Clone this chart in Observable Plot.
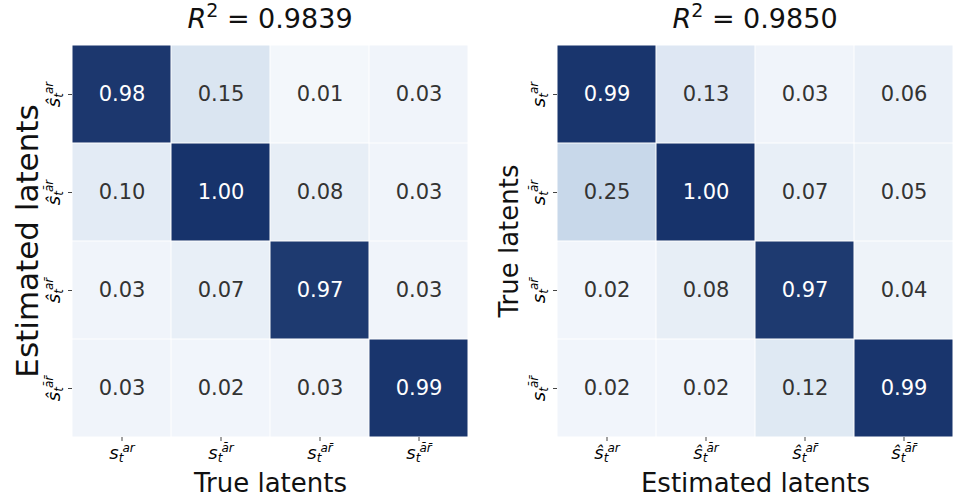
<!DOCTYPE html>
<html>
<head>
<meta charset="utf-8">
<script src="https://cdn.jsdelivr.net/npm/d3@7"></script>
<script src="https://cdn.jsdelivr.net/npm/@observablehq/plot@0.6"></script>
<style>
  body { margin: 0; background: #fff; font-family: "DejaVu Sans", sans-serif; }
  #wrap { position: relative; width: 953px; height: 498px; }
  .panel { position: absolute; top: 0; }
  .title { position: absolute; top: 3px; font-size: 27px; color: #111; white-space: nowrap; transform: translateX(-50%); }
  .title sup { font-size: 19px; vertical-align: 0; position: relative; top: -11px; }
</style>
</head>
<body>
<div id="wrap"></div>
<script>
// ---- data ----
const latentKeys = ["ar", "a\u0304r", "ar\u0304", "a\u0304r\u0304"];
const leftTitleR2 = "0.9839";
const rightTitleR2 = "0.9850";
const leftValues = [
  [0.98, 0.15, 0.01, 0.03],
  [0.10, 1.00, 0.08, 0.03],
  [0.03, 0.07, 0.97, 0.03],
  [0.03, 0.02, 0.03, 0.99]
];
const rightValues = [
  [0.99, 0.13, 0.03, 0.06],
  [0.25, 1.00, 0.07, 0.05],
  [0.02, 0.08, 0.97, 0.04],
  [0.02, 0.02, 0.12, 0.99]
];
const leftXLabel = "True latents", leftYLabel = "Estimated latents";
const rightXLabel = "Estimated latents", rightYLabel = "True latents";

function toTable(values) {
  const out = [];
  values.forEach((row, i) => row.forEach((v, j) => out.push({row: latentKeys[i], col: latentKeys[j], v})));
  return out;
}

const colorScale = {type: "linear", domain: [0, 0.25, 1], range: ["#f5f8fc", "#c8d8ea", "#17336b"], interpolate: "rgb"};

function makePlot(values, opts) {
  const data = toTable(values);
  return Plot.plot({
    width: opts.width, height: 498,
    marginLeft: opts.marginLeft, marginRight: opts.marginRight, marginTop: 44, marginBottom: 61,
    style: {fontFamily: "DejaVu Sans, sans-serif", background: "white"},
    x: {domain: latentKeys, padding: 0},
    y: {domain: latentKeys, padding: 0},
    color: colorScale,
    marks: [
      Plot.cell(data, {x: "col", y: "row", fill: "v", inset: 0.5}),
      Plot.text(data, {x: "col", y: "row", text: d => d.v.toFixed(2), fontSize: 21,
        fill: d => d.v > 0.5 ? "white" : "#333"}),
      Plot.axisX({tickSize: 4, tickPadding: 8, label: null, stroke: "#444", fontSize: 14, tickFormat: d => d}),
      Plot.axisY({tickSize: 4, tickPadding: 9, label: null, stroke: "#444", fontSize: 14, tickRotate: -90, tickFormat: d => d}),
      Plot.text([opts.xLabel], {frameAnchor: "bottom", textAnchor: "middle", lineAnchor: "middle", dy: 46, fontSize: 26, fill: "#111"}),
      Plot.text([opts.yLabel], {frameAnchor: "left", textAnchor: "middle", rotate: -90, dx: opts.yLabelDx, fontSize: opts.yLabelSize, fill: "#111"})
    ]
  });
}

function mathify(svg, axisName, hat) {
  const ns = "http://www.w3.org/2000/svg";
  svg.querySelectorAll(`g[aria-label="${axisName}-axis tick label"] text`).forEach(t => {
    const key = t.textContent;
    while (t.firstChild) t.removeChild(t.firstChild);
    const s = document.createElementNS(ns, "tspan");
    s.textContent = hat ? "s\u0302" : "s";
    s.setAttribute("font-style", "italic");
    s.setAttribute("font-size", "18");
    const sub = document.createElementNS(ns, "tspan");
    sub.textContent = "t";
    sub.setAttribute("font-style", "italic");
    sub.setAttribute("font-size", "12");
    sub.setAttribute("dy", "3");
    const sup = document.createElementNS(ns, "tspan");
    sup.textContent = key;
    sup.setAttribute("font-style", "italic");
    sup.setAttribute("font-size", "12");
    sup.setAttribute("dx", "-1");
    sup.setAttribute("dy", "-10");
    t.appendChild(s); t.appendChild(sub); t.appendChild(sup);
  });
}

const wrap = document.getElementById("wrap");

const p1 = makePlot(leftValues, {width: 490, marginLeft: 72, marginRight: 22, xLabel: leftXLabel, yLabel: leftYLabel, yLabelDx: -44, yLabelSize: 31});
mathify(p1, "x", false);
mathify(p1, "y", true);
const d1 = document.createElement("div"); d1.className = "panel"; d1.style.left = "0px"; d1.appendChild(p1); wrap.appendChild(d1);

const p2 = makePlot(rightValues, {width: 463, marginLeft: 67, marginRight: 0, xLabel: rightXLabel, yLabel: rightYLabel, yLabelDx: -48, yLabelSize: 26});
mathify(p2, "x", true);
mathify(p2, "y", false);
const d2 = document.createElement("div"); d2.className = "panel"; d2.style.left = "490px"; d2.appendChild(p2); wrap.appendChild(d2);

function addTitle(x, r2) {
  const t = document.createElement("div");
  t.className = "title";
  t.style.left = x + "px";
  t.innerHTML = `<i>R</i><sup>2</sup> = ${r2}`;
  wrap.appendChild(t);
}
addTitle(270, leftTitleR2);
addTitle(755, rightTitleR2);
</script>
</body>
</html>
